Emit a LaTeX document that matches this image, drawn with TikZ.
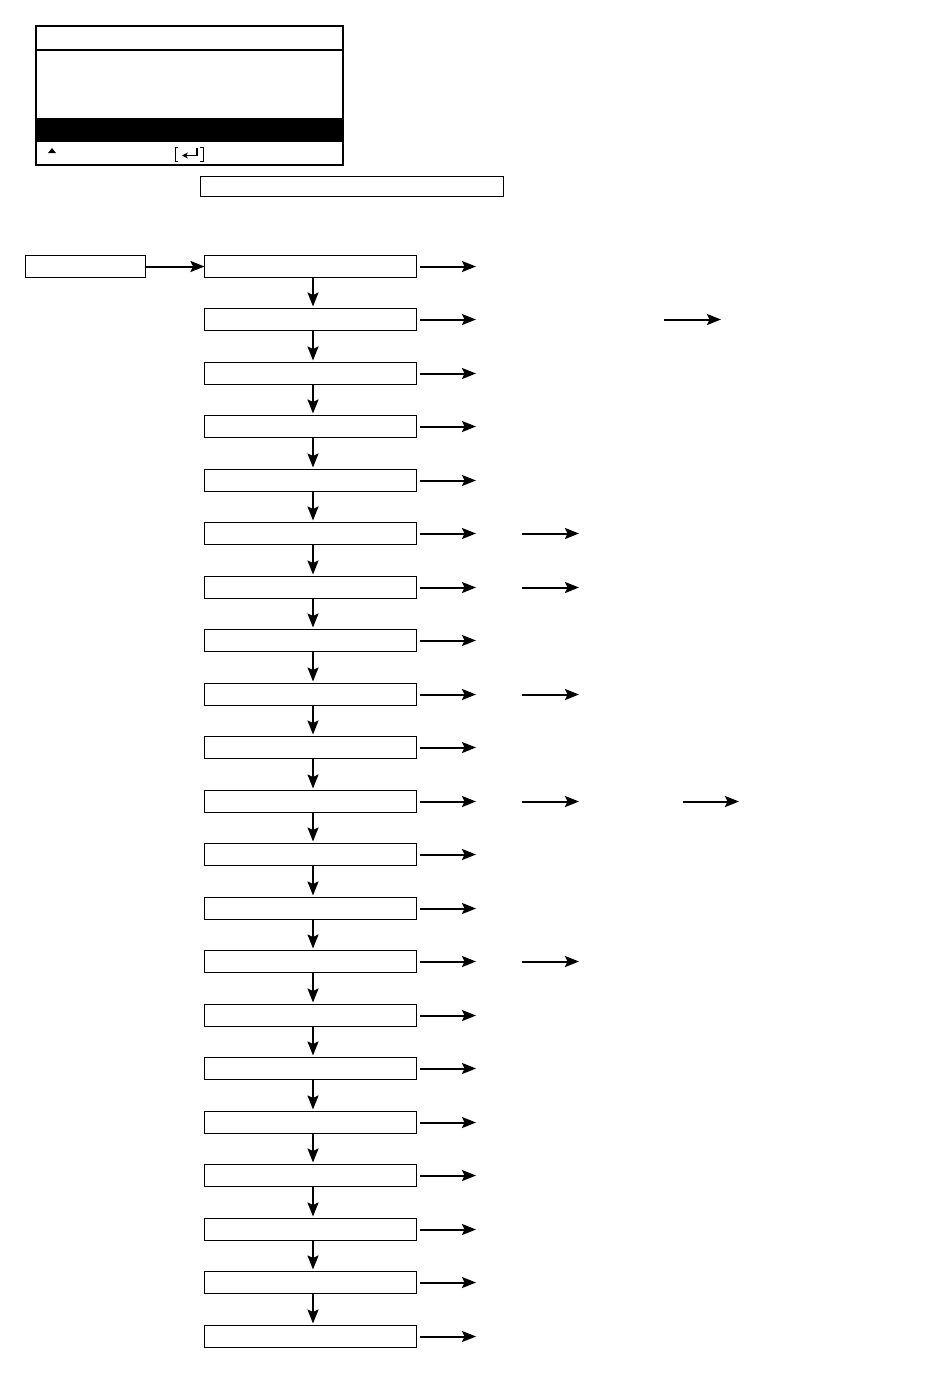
\documentclass[tikz,border=0pt]{standalone}
\usetikzlibrary{arrows.meta}
\begin{document}
\begin{tikzpicture}[x=1pt,y=-1pt,
  mbox/.style={draw,line width=1pt,minimum width=212pt,minimum height=22pt,inner sep=0pt,outer sep=0pt},
  lbox/.style={draw,line width=1pt,minimum width=120pt,minimum height=22pt,inner sep=0pt,outer sep=0pt},
  hbox/.style={draw,line width=1pt,minimum width=303pt,minimum height=20pt,inner sep=0pt,outer sep=0pt},
  arr/.style={line width=2pt,-{Stealth[length=14pt,width=11pt,inset=2.5pt]}},
  disp/.style={draw,line width=2pt,inner sep=0pt,outer sep=0pt}]
\useasboundingbox (0,0) rectangle (950,1374);
% display
\node[disp,minimum width=307pt,minimum height=139pt] (disp) at (189.5,95.5) {};
\draw[line width=1.5pt] (disp.west |- 0,50) -- (disp.east |- 0,50);
\fill (37,118) rectangle (342,142);
\fill (48,153) -- (56,153) -- (52,148) -- cycle;
\draw[line width=0.8pt] (178,147) -- (175,147) -- (175,161) -- (178,161);
\draw[line width=0.8pt] (200,147) -- (203,147) -- (203,161) -- (200,161);
\draw[line width=1.8pt,-{Stealth[length=6pt,width=6pt]}] (197,148) -- (197,155.5) -- (182,155.5);
% header box
\node[hbox] (hdr) at (351.5,186.5) {};
% left box
\node[lbox] (src) at (85.5,266.5) {};
% main column
\foreach \i in {0,...,20} {
  \pgfmathsetmacro{\yy}{floor(255+53.5*\i)+11.5}
  \node[mbox] (b\i) at (310.5,\yy) {};
  \coordinate (r\i) at (476,\yy);
  \draw[arr] ([xshift=3pt]b\i.east) -- (r\i);
}
\draw[arr] (src.east) -- (b0.west);
\foreach \i [evaluate=\i as \j using int(\i+1)] in {0,...,19} {
  \draw[arr] ([xshift=2.5pt]b\i.south) -- ([xshift=2.5pt,yshift=2pt]b\j.north);
}
% second-level arrows
\foreach \i in {5,6,8,10,13} {
  \coordinate (s\i) at (522,0 |- b\i);
  \coordinate (t\i) at (579,0 |- b\i);
  \draw[arr] (s\i) -- (t\i);
}
\coordinate (s1) at (664,0 |- b1);
\coordinate (t1) at (721,0 |- b1);
\draw[arr] (s1) -- (t1);
\coordinate (u10) at (683,0 |- b10);
\coordinate (v10) at (739,0 |- b10);
\draw[arr] (u10) -- (v10);
\end{tikzpicture}
\end{document}
